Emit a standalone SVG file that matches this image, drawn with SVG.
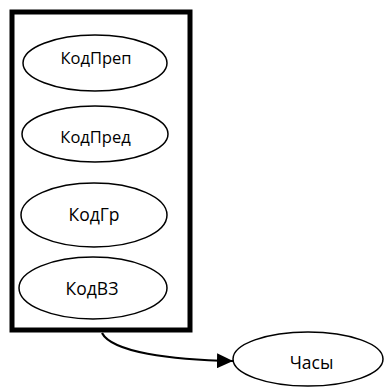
<svg xmlns="http://www.w3.org/2000/svg" width="389" height="387" viewBox="0 0 389 387">
  <style>
    .node ellipse { fill: #fff; stroke: #000; stroke-width: 1.5; }
    .node text { font-family: "Open Sans", "Noto Sans", "Liberation Sans", sans-serif; fill: #000; text-anchor: middle; }
    .sm { font-size: 16.5px; }
    .lg { font-size: 17.5px; }
    .group { fill: none; stroke: #000; stroke-width: 5; }
    .edge { fill: none; stroke: #000; stroke-width: 2.2; }
  </style>
  <defs>
    <marker id="arrow" viewBox="0 0 16 15" refX="16" refY="7.5" markerWidth="16" markerHeight="15" markerUnits="userSpaceOnUse" orient="auto">
      <path d="M0,0 L16,7.5 L0,15 Z" fill="#000"/>
    </marker>
  </defs>
  <rect id="key-group" class="group" x="12" y="12" width="178" height="318"/>
  <g id="KodPrep" class="node">
    <ellipse cx="95" cy="63" rx="72" ry="28"/>
    <text class="sm" x="96" y="64">КодПреп</text>
  </g>
  <g id="KodPred" class="node">
    <ellipse cx="95" cy="134" rx="73" ry="28"/>
    <text class="sm" x="95.5" y="143">КодПред</text>
  </g>
  <g id="KodGr" class="node">
    <ellipse cx="94" cy="215" rx="73" ry="32"/>
    <text class="lg" x="94" y="221">КодГр</text>
  </g>
  <g id="KodVZ" class="node">
    <ellipse cx="93" cy="288" rx="74" ry="31"/>
    <text class="lg" x="92" y="295">КодВЗ</text>
  </g>
  <g id="Hours" class="node">
    <ellipse cx="308" cy="359" rx="75" ry="27"/>
    <text class="lg" x="311.5" y="369">Часы</text>
  </g>
  <g id="connectors">
    <path class="edge" d="M102,333 C112,352 170,360 233,361" marker-end="url(#arrow)"/>
  </g>
</svg>
